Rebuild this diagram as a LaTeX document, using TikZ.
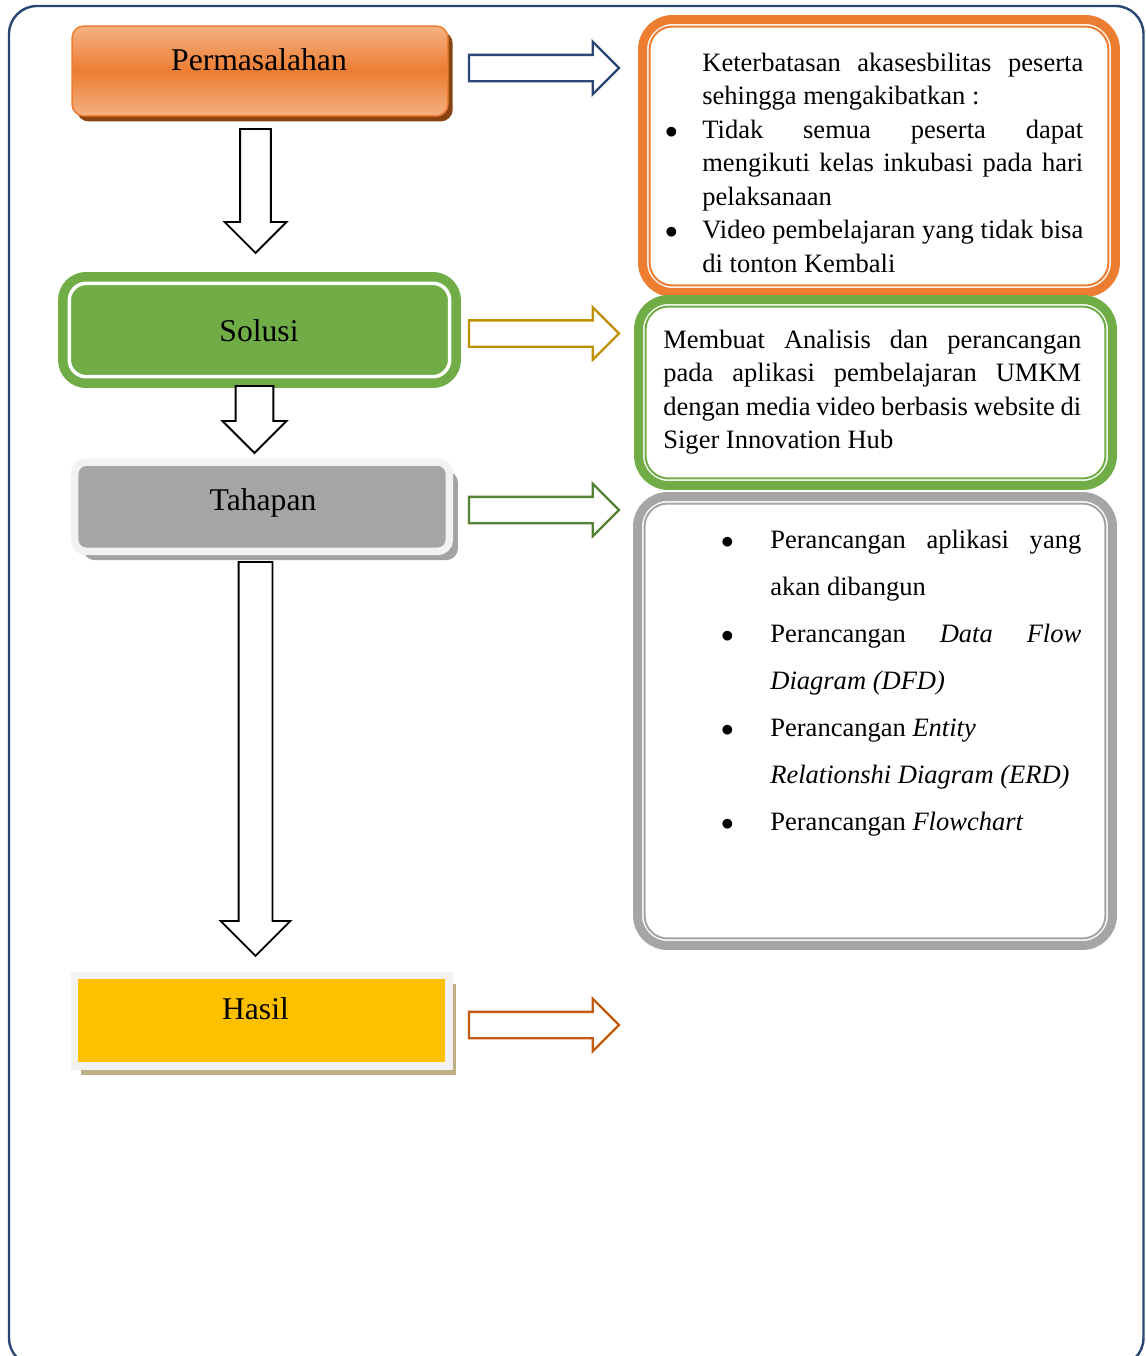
\documentclass[tikz,border=0pt]{standalone}
\usepackage{fontspec}
\setmainfont{Liberation Serif}
\usetikzlibrary{arrows.meta, positioning, shapes.arrows, calc, shadows}
\definecolor{cnavy}{HTML}{2A4675}
\definecolor{corange}{HTML}{ED7D31}
\definecolor{clorange}{HTML}{F4B183}
\definecolor{cbrown}{HTML}{8A4412}
\definecolor{cgreen}{HTML}{70AD47}
\definecolor{cdgreen}{HTML}{548235}
\definecolor{cgold}{HTML}{BF9000}
\definecolor{crust}{HTML}{C55A11}
\definecolor{cgrey}{HTML}{A5A5A5}
\definecolor{clgrey}{HTML}{F2F2F2}
\definecolor{cshade}{HTML}{A3A3A3}
\definecolor{ctan}{HTML}{BFAF85}
\definecolor{cyellow}{HTML}{FFC000}
\tolerance=10000
\hyphenpenalty=10000
\newcommand{\dotitem}[1]{\noindent\llap{$\bullet$\hspace{#1}}}
\tikzset{
  title/.style={font=\fontsize{18}{22}\selectfont, inner sep=0pt, anchor=base},
  body/.style={font=\fontsize{15.1}{19.1}\selectfont, text width=#1, align=justify, inner sep=0pt, anchor=base west},
  panel/.style={draw=#1, fill=white, line width=0.18cm, rounded corners=0.6cm, outer sep=0pt},
  rim/.style={draw=#1, line width=0.04cm, rounded corners=0.46cm},
  blockarrow/.style={single arrow, single arrow head extend=#1, fill=white, inner xsep=0pt, outer sep=0pt, anchor=tail},
  downarrow/.style={blockarrow=#1, draw=black, line width=0.036cm, rotate=-90},
  sidearrow/.style={blockarrow=0.26cm, draw=#1, line width=0.046cm, inner ysep=0.24cm, minimum width=1cm, minimum height=3cm},
}
\begin{document}
\begin{tikzpicture}[x=0.02cm, y=-0.02cm,
  headbox/.style={minimum width=7.5cm, minimum height=1.8cm, outer sep=0pt},
  shade/.style={drop shadow={fill=#1, opacity=1, shadow xshift=0.17cm, shadow yshift=-0.175cm}}]
  \useasboundingbox (0,0) rectangle (1146,1356);
  \clip (0,0) rectangle (1146,1356);
  \fill[white] (0,0) rectangle (1146,1356);
  \draw[cnavy, line width=0.048cm, rounded corners=0.56cm] (9,6) rectangle (1143.5,1366);

  % left column
  \node[headbox, minimum width=7.52cm, draw=corange, line width=0.03cm, rounded corners=0.24cm,
    top color=clorange, bottom color=clorange, middle color=corange,
    drop shadow={fill=cbrown, opacity=1, shadow xshift=0.095cm, shadow yshift=-0.11cm}] (masalah) at (260,71) {};
  \node[title] (lmasalah) at (259,70.7) {Permasalahan};

  \node[headbox, minimum width=7.61cm, minimum height=1.87cm, fill=cgreen, draw=cgreen, line width=0.19cm,
    double=white, double distance=0.07cm, rounded corners=0.34cm] (solusi) at (259.5,330) {};
  \node[title] (lsolusi) at (259,341.7) {Solusi};

  \node[headbox, minimum height=1.79cm, fill=cgrey, draw=clgrey, line width=0.15cm, rounded corners=0.24cm,
    shade=cshade] (tahapan) at (262,506.75) {};
  \node[title] (ltahapan) at (263,510) {Tahapan};

  \node[headbox, minimum width=7.49cm, minimum height=1.81cm, fill=cyellow, draw=clgrey, line width=0.15cm,
    drop shadow={fill=ctan, opacity=1, shadow xshift=0.135cm, shadow yshift=-0.175cm}] (hasil) at (261.75,1020.75) {};
  \node[title] (lhasil) at (255.5,1019.3) {Hasil};

  \node[downarrow=0.31cm, inner ysep=0.29cm, minimum width=1.2cm, minimum height=2.48cm] (dn1) at (255.5,129) {};
  \node[downarrow=0.26cm, inner ysep=0.36cm, minimum width=1.24cm, minimum height=1.34cm] (dn2) at (254.5,386) {};
  \node[downarrow=0.36cm, inner ysep=0.32cm, minimum width=1.36cm, minimum height=7.88cm] (dn3) at (255.5,562) {};

  \node[sidearrow=cnavy] (ar1) at (469,68) {};
  \node[sidearrow=cgold] (ar2) at (469,333.5) {};
  \node[sidearrow=cdgreen] (ar3) at (469,510) {};
  \node[sidearrow=crust] (ar4) at (469,1025) {};

  % right column
  \node[panel=corange, minimum width=9.46cm, minimum height=5.46cm] (pmasalah) at (879,156) {};
  \draw[rim=corange] ($(pmasalah.north west)+(7,7)$) rectangle ($(pmasalah.south east)+(-7,-7)$);
  \node[body=7.62cm] (tmasalah) at (702,71) {%
    Keterbatasan akasesbilitas peserta\linebreak sehingga mengakibatkan :\par
    \dotitem{0.49cm}Tidak semua peserta dapat\linebreak mengikuti kelas inkubasi pada hari\linebreak pelaksanaan\par
    \dotitem{0.49cm}Video pembelajaran yang tidak bisa\linebreak di tonton Kembali};

  \node[panel=cgreen, minimum width=9.48cm, minimum height=3.72cm] (psolusi) at (875.5,392.5) {};
  \draw[rim=cgreen] ($(psolusi.north west)+(7,7)$) rectangle ($(psolusi.south east)+(-7,-7)$);
  \node[body=8.36cm] (tsolusi) at (663,348.3) {%
    Membuat Analisis dan perancangan\linebreak pada aplikasi pembelajaran UMKM\linebreak
    dengan media video berbasis website di\linebreak Siger Innovation Hub};

  \node[panel=cgrey, minimum width=9.5cm, minimum height=8.98cm] (ptahapan) at (875,721) {};
  \draw[rim=cgrey] ($(ptahapan.north west)+(7,7)$) rectangle ($(ptahapan.south east)+(-7,-7)$);
  \node[body=6.22cm, font=\fontsize{15.1}{26.75}\selectfont] (ttahapan) at (770,548.3) {%
    \dotitem{0.73cm}Perancangan aplikasi yang\linebreak akan dibangun\par
    \dotitem{0.73cm}Perancangan \textit{Data Flow}\linebreak \textit{Diagram (DFD)}\par
    \dotitem{0.73cm}Perancangan \textit{Entity}\newline \textit{Relationshi Diagram (ERD)}\par
    \dotitem{0.73cm}Perancangan \textit{Flowchart}};
\end{tikzpicture}
\end{document}
